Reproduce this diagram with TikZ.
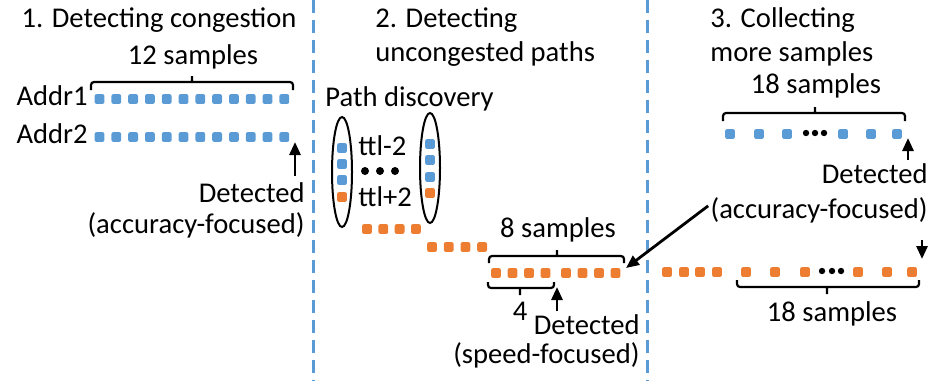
\documentclass[tikz,border=0pt]{standalone}
\usepackage{fontspec}
\setmainfont{Carlito}
\usepackage{tikz}
\usetikzlibrary{positioning,arrows.meta,shapes.geometric}
\usepackage{xcolor}
\definecolor{pktblue}{HTML}{5B9BD5}
\definecolor{pktorange}{HTML}{ED7D31}

\begin{document}
\begin{tikzpicture}[x=0.5pt, y=-0.5pt,
    every node/.style={font=\fontsize{14.3}{17}\selectfont, inner sep=0pt},
    txt/.style={anchor=base},
    bsq/.style={fill=pktblue, minimum size=4.9pt, rounded corners=1pt},
    osq/.style={fill=pktorange, minimum size=4.9pt, rounded corners=1pt},
    oval/.style={draw, ellipse, line width=1pt, minimum width=10pt, minimum height=55pt},
    sep/.style={draw=pktblue, line width=1.5pt, dash pattern=on 6.5pt off 3.5pt},
    brk/.style={line width=1.1pt, rounded corners=1.5pt},
    arr/.style={-{Triangle[length=6.5pt, width=5.5pt]}, line width=1.4pt}]
    \useasboundingbox (0,0) rectangle (940,381);
    \draw[sep] (313,0) -- (313,381);
    \draw[sep] (647,0) -- (647,381);

    % 1. congestion
    \node[txt] (t1) at (159,27) {1. Detecting congestion};
    \node[txt] (s12) at (193,64) {12 samples};
    \node[anchor=base east] (ad1) at (88,105) {Addr1};
    \node[anchor=base east] (ad2) at (88,143) {Addr2};
    \foreach \i in {1,...,12} {
      \node[bsq] (p\i) at ({99.5+16.8*(\i-1)},99) {};
      \node[bsq] (q\i) at ({99.5+16.8*(\i-1)},137) {};
    }
    \draw[brk] (91,90) |- (192,82) -| (293,90) (192,82) -- (192,76);
    \node[anchor=base east] (d1a) at (305,202) {Detected};
    \node[anchor=base east] (d1b) at (305,233) {(accuracy-focused)};
    \coordinate (d1tail) at (295,176);
    \coordinate (d1tip) at (295,142);
    \draw[arr] (d1tail) -- (d1tip);

    % 2. uncongested paths
    \node[anchor=base west] (t2a) at (375,27) {2. Detecting};
    \node[anchor=base west] (t2b) at (375,61.5) {uncongested paths};
    \node[anchor=base west] (pd) at (325,106) {Path discovery};
    \node[oval] (ovl) at (342,172) {};
    \node[oval] (ovr) at (430,168) {};
    \node[bsq] (l1) at (342,148) {};
    \node[bsq] (l2) at (342,164) {};
    \node[bsq] (l3) at (342,180) {};
    \node[osq] (l4) at (342,197) {};
    \node[bsq] (r1) at (430,144) {};
    \node[bsq] (r2) at (430,160) {};
    \node[bsq] (r3) at (430,177) {};
    \node[osq] (r4) at (430,193) {};
    \node[anchor=base west] (ttlm) at (358,155) {ttl-2};
    \node[anchor=base west] (ttlp) at (358,206) {ttl+2};
    \foreach \x in {365,380,395} \fill (\x,171) circle (2pt);
    \foreach \i in {1,...,4} {
      \node[osq] (u\i) at ({367+16.3*(\i-1)},229) {};
      \node[osq] (v\i) at ({432+16.7*(\i-1)},247) {};
      \node[osq] (w\i) at ({496+16.5*(\i-1)},273) {};
      \node[osq] (x\i) at ({566+16.5*(\i-1)},273) {};
    }
    \node[txt] (s8) at (558,237) {8 samples};
    \draw[brk] (489,263) |- (557,256) -| (624,263) (557,256) -- (557,250);
    \draw[brk] (488,282) |- (520,288) -| (554,282) (520,288) -- (520,295);
    \node[txt] (four) at (520,320) {4};
    \node[anchor=base east] (d2a) at (640,334) {Detected};
    \node[anchor=base east] (d2b) at (640,363) {(speed-focused)};
    \coordinate (d2tail) at (557,311);
    \coordinate (d2tip) at (557,287);
    \draw[arr] (d2tail) -- (d2tip);

    % 3. more samples
    \node[anchor=base west] (t3a) at (710,27) {3. Collecting};
    \node[anchor=base west] (t3b) at (710,61.5) {more samples};
    \node[txt] (s18a) at (816,93) {18 samples};
    \draw[brk] (723,121) |- (815,113) -| (905,121) (815,113) -- (815,107);
    \foreach \x [count=\i] in {730,759,787,843,871,897}
      \node[bsq] (m\i) at (\x,134) {};
    \foreach \x in {806,815,824} \fill (\x,133) circle (1.6pt);
    \node[anchor=base east] (d3a) at (928,183) {Detected};
    \node[anchor=base east] (d3b) at (928,218) {(accuracy-focused)};
    \coordinate (d3tail) at (908,160);
    \coordinate (d3tip) at (908,138);
    \draw[arr] (d3tail) -- (d3tip);
    \foreach \x [count=\i] in {667,684,700,717,746,775,805,858,887,912}
      \node[osq] (n\i) at (\x,272) {};
    \foreach \x in {822,832,841} \fill (\x,271) circle (1.6pt);
    \draw[brk] (737,280) |- (827,287) -| (919,280) (827,287) -- (827,294);
    \node[txt] (s18b) at (832,321) {18 samples};
    \coordinate (d3top) at (922,240);
    \coordinate (d3bot) at (922,259);
    \draw[arr] (d3top) -- (d3bot);
    \coordinate (x4tip) at (626,268);
    \draw[arr] ([xshift=-1pt,yshift=2pt]d3b.west) -- (x4tip);
\end{tikzpicture}
\end{document}
